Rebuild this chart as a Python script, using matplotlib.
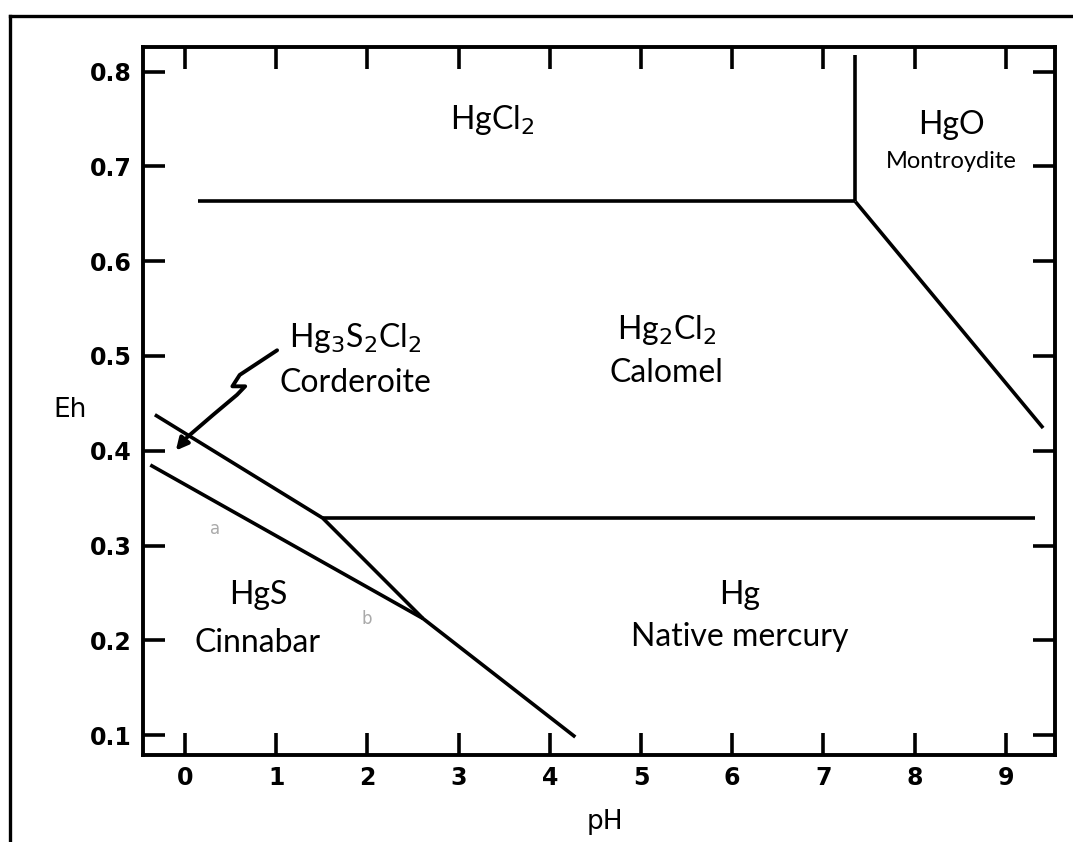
import matplotlib.pyplot as plt
from matplotlib.lines import Line2D

# Eh-pH diagram, Hg-S-Cl system
# boundary lines (pH, Eh)
hgcl2_ph = [0.14, 7.35]
hgcl2_eh = [0.663, 0.663]
hgo_vert_ph = [7.35, 7.35]
hgo_vert_eh = [0.818, 0.663]
hgo_diag_ph = [7.35, 9.41]
hgo_diag_eh = [0.663, 0.424]
hg_ph = [1.51, 9.32]
hg_eh = [0.329, 0.329]
upper_ph = [-0.33, 1.51, 2.61, 4.28]
upper_eh = [0.438, 0.329, 0.223, 0.098]
lower_ph = [-0.38, 2.61]
lower_eh = [0.385, 0.223]

# hand drawn arrow pointing at Corderoite field
arrow_ph = [1.01, 0.60, 0.52, 0.66, 0.57, 0.31, 0.02, -0.12]
arrow_eh = [0.506, 0.480, 0.468, 0.468, 0.459, 0.438, 0.414, 0.398]

xticks = list(range(0, 10))
yticks = [0.1, 0.2, 0.3, 0.4, 0.5, 0.6, 0.7, 0.8]

fig = plt.figure(figsize=(10.73, 8.42), dpi=100)
ax = fig.add_axes([0.1333, 0.1033, 0.8499, 0.8409])

lw = 2.6
for xs, ys in [(hgcl2_ph, hgcl2_eh), (hgo_vert_ph, hgo_vert_eh), (hgo_diag_ph, hgo_diag_eh),
               (hg_ph, hg_eh), (upper_ph, upper_eh), (lower_ph, lower_eh)]:
    ax.plot(xs, ys, color='black', lw=lw, solid_capstyle='butt')

ax.plot(arrow_ph[:-1], arrow_eh[:-1], color='black', lw=2.8, solid_capstyle='round')
ax.annotate('', xy=(arrow_ph[-1], arrow_eh[-1]), xytext=(arrow_ph[-2], arrow_eh[-2]),
            arrowprops=dict(arrowstyle='-|>', color='black', lw=2.8, mutation_scale=18))

ax.set_xlim(-0.46, 9.54)
ax.set_ylim(0.079, 0.826)
ax.set_xticks(xticks)
ax.set_yticks(yticks)
ax.set_xticklabels([str(t) for t in xticks])
ax.set_yticklabels([f'{t:.1f}' for t in yticks])
ax.tick_params(direction='in', length=16, width=2.6, top=True, right=True, pad=8,
               labelsize=17)
for lab in ax.get_xticklabels() + ax.get_yticklabels():
    lab.set_fontweight('bold')
    lab.set_family('DejaVu Sans')
for sp in ax.spines.values():
    sp.set_linewidth(2.8)

ax.set_xlabel('pH', fontsize=19, va='center')
ax.set_ylabel('Eh', fontsize=19, rotation=0, va='center', ha='center')
ax.xaxis.set_label_coords(0.507, -0.095)
ax.yaxis.set_label_coords(-0.080, 0.487)

fnt = 'Lato'
fs = 23
ax.text(3.37, 0.749, 'HgCl$_2$', fontsize=fs, ha='center', va='center', family=fnt)
ax.text(8.40, 0.744, 'HgO', fontsize=fs, ha='center', va='center', family=fnt)
ax.text(8.40, 0.705, 'Montroydite', fontsize=17, ha='center', va='center', family=fnt)
ax.text(1.87, 0.519, 'Hg$_3$S$_2$Cl$_2$', fontsize=fs, ha='center', va='center', family=fnt)
ax.text(1.87, 0.472, 'Corderoite', fontsize=fs, ha='center', va='center', family=fnt)
ax.text(5.28, 0.527, 'Hg$_2$Cl$_2$', fontsize=fs, ha='center', va='center', family=fnt)
ax.text(5.28, 0.482, 'Calomel', fontsize=fs, ha='center', va='center', family=fnt)
ax.text(0.80, 0.248, 'HgS', fontsize=fs, ha='center', va='center', family=fnt)
ax.text(0.80, 0.197, 'Cinnabar', fontsize=fs, ha='center', va='center', family=fnt)
ax.text(6.08, 0.248, 'Hg', fontsize=fs, ha='center', va='center', family=fnt)
ax.text(6.08, 0.203, 'Native mercury', fontsize=fs, ha='center', va='center', family=fnt)
ax.text(0.33, 0.317, 'a', fontsize=12, color='#aaaaaa', ha='center', va='center')
ax.text(1.99, 0.222, 'b', fontsize=12, color='#aaaaaa', ha='center', va='center')

# outer frame of the figure (open at right and bottom)
fig.add_artist(Line2D([10 / 1073, 10 / 1073], [0, 1 - 16 / 842], color='black', lw=2.4,
                      transform=fig.transFigure))
fig.add_artist(Line2D([10 / 1073, 1], [1 - 16 / 842, 1 - 16 / 842], color='black', lw=2.4,
                      transform=fig.transFigure))

fig.savefig('out.png', dpi=100)
